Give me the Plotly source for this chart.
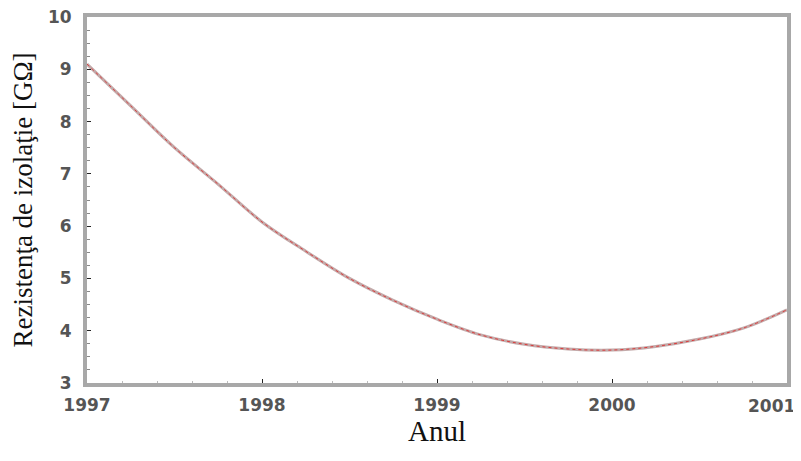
import plotly.graph_objects as go

years = [1997.0, 1997.25, 1997.5, 1997.75, 1998.0, 1998.25, 1998.5, 1998.75,
         1999.0, 1999.25, 1999.5, 1999.75, 2000.0, 2000.25, 2000.5, 2000.75, 2001.0]
resist = [9.1, 8.3, 7.5, 6.8, 6.08, 5.52, 5.0, 4.58,
          4.22, 3.92, 3.74, 3.65, 3.63, 3.70, 3.84, 4.05, 4.4]
x_ticks = [1997, 1998, 1999, 2000, 2001]
x_labels = ["1997", "1998", "1999", "2000", ""]
last_label = "2001"
y_ticks = [3, 4, 5, 6, 7, 8, 9, 10]

fig = go.Figure()
fig.add_trace(go.Scatter(x=years, y=resist, mode="lines", line=dict(color="rgb(195,170,170)", width=3), line_shape="spline"))
fig.add_trace(go.Scatter(x=years, y=resist, mode="lines", line=dict(color="rgb(220,60,60)", width=1, dash="dot"), line_shape="spline"))

tickfont = dict(family="DejaVu Sans", size=17, color="#555", weight="bold")
axis_common = dict(showgrid=False, zeroline=False, showline=True, mirror=True, automargin=False,
                   linecolor="#a8a8a8", linewidth=4, ticks="inside", ticklen=4,
                   tickcolor="#222", tickfont=tickfont, ticklabeloverflow="allow")
fig.update_xaxes(range=[1997, 2001], tickvals=x_ticks, ticktext=x_labels,
                 ticklabelstandoff=4,
                 title=dict(text="Anul", font=dict(family="Liberation Serif, Times New Roman", size=29, color="#111"), standoff=0),
                 minor=dict(ticks="inside", ticklen=2, dtick=0.2, tickcolor="#bbb"), **axis_common)
fig.update_yaxes(range=[3, 10], tickvals=y_ticks, ticklabelstandoff=8,
                 title=dict(text="Rezistenţa de izolaţie [GΩ]", font=dict(family="Liberation Serif, Times New Roman", size=27, color="#111"), standoff=8),
                 minor=dict(ticks="inside", ticklen=3, dtick=0.25, tickcolor="#888"), **axis_common)
fig.add_annotation(x=x_ticks[-1], xref="x", y=0, yref="paper", text=last_label, showarrow=False,
                   xanchor="right", yanchor="top", xshift=10, yshift=-11, font=tickfont)
fig.update_layout(width=801, height=461, margin=dict(l=79, r=22, t=9, b=86),
                  plot_bgcolor="white", paper_bgcolor="white", showlegend=False)
fig.write_html("out.html")
